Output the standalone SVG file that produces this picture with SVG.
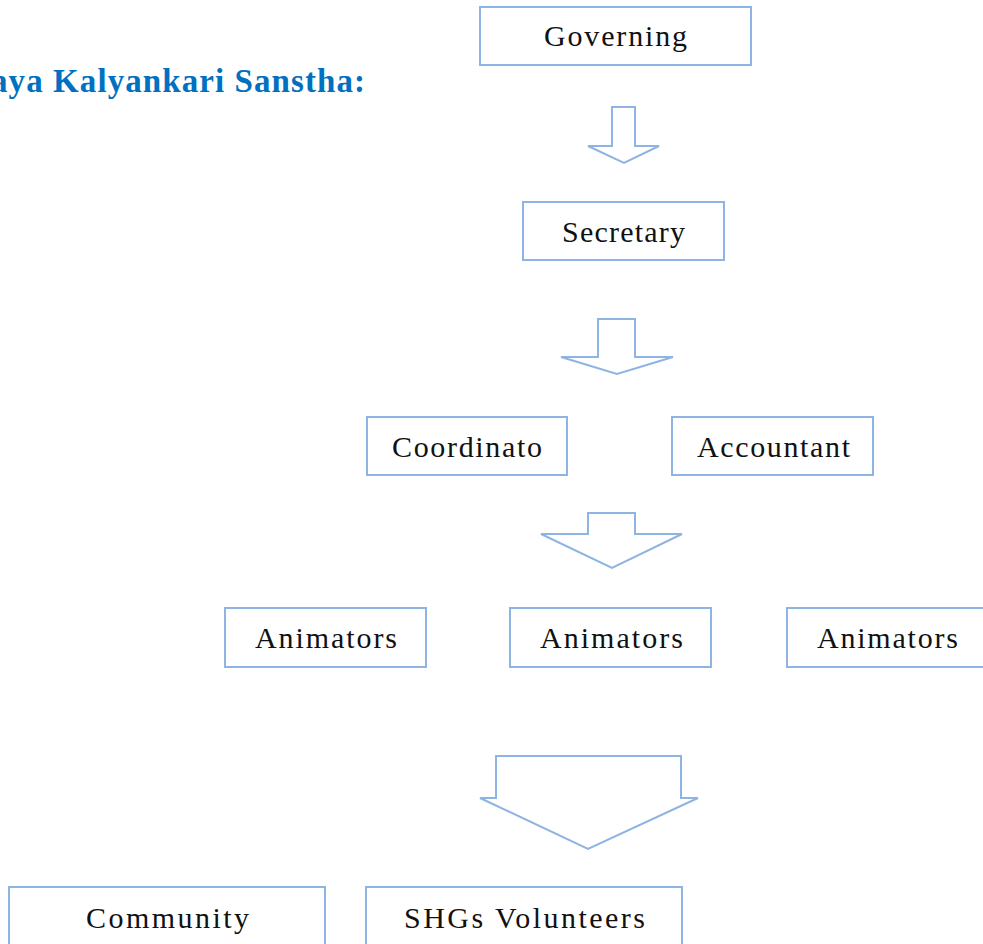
<svg xmlns="http://www.w3.org/2000/svg" width="983" height="944" viewBox="0 0 983 944">
<style>
.box{fill:#fff;stroke:#8EB4E3;stroke-width:2}
.arr{fill:#fff;stroke:#8EB4E3;stroke-width:2;stroke-linejoin:miter}
.lbl{font-family:"Liberation Serif","Times New Roman",serif;font-size:30px;fill:#111;text-anchor:start}
.title{font-family:"Liberation Serif","Times New Roman",serif;font-size:33px;font-weight:bold;fill:#0070C0}
</style>
<rect width="983" height="944" fill="#fff"/>
<text class="title" x="-9" y="92" textLength="374">aya Kalyankari Sanstha:</text>
<g id="connectors">
<polygon class="arr" points="612,107 635,107 635,146 659,146 624,163 588,146 612,146"/>
<polygon class="arr" points="598,319 635,319 635,357 673,357 617,374 561,357 598,357"/>
<polygon class="arr" points="588,513 635,513 635,534 682,534 612,568 541,534 588,534"/>
<polygon class="arr" points="496,756 681,756 681,798 698,798 588,849 480,798 496,798"/>
</g>
<g id="governing"><rect class="box" x="480" y="7" width="271" height="58"/><text class="lbl" x="544" y="46" textLength="143">Governing</text></g>
<g id="secretary"><rect class="box" x="523" y="202" width="201" height="58"/><text class="lbl" x="562" y="242" textLength="123">Secretary</text></g>
<g id="coordinator"><rect class="box" x="367" y="417" width="200" height="58"/><text class="lbl" x="392" y="457" textLength="150">Coordinato</text></g>
<g id="accountant"><rect class="box" x="672" y="417" width="201" height="58"/><text class="lbl" x="697" y="457" textLength="153">Accountant</text></g>
<g id="animators1"><rect class="box" x="225" y="608" width="201" height="59"/><text class="lbl" x="255" y="648" textLength="142">Animators</text></g>
<g id="animators2"><rect class="box" x="510" y="608" width="201" height="59"/><text class="lbl" x="540" y="648" textLength="143">Animators</text></g>
<g id="animators3"><rect class="box" x="787" y="608" width="201" height="59"/><text class="lbl" x="817" y="648" textLength="141">Animators</text></g>
<g id="community"><rect class="box" x="9" y="887" width="316" height="70"/><text class="lbl" x="86" y="928" textLength="163">Community</text></g>
<g id="shgs"><rect class="box" x="366" y="887" width="316" height="70"/><text class="lbl" x="404" y="928" textLength="241">SHGs Volunteers</text></g>
</svg>
